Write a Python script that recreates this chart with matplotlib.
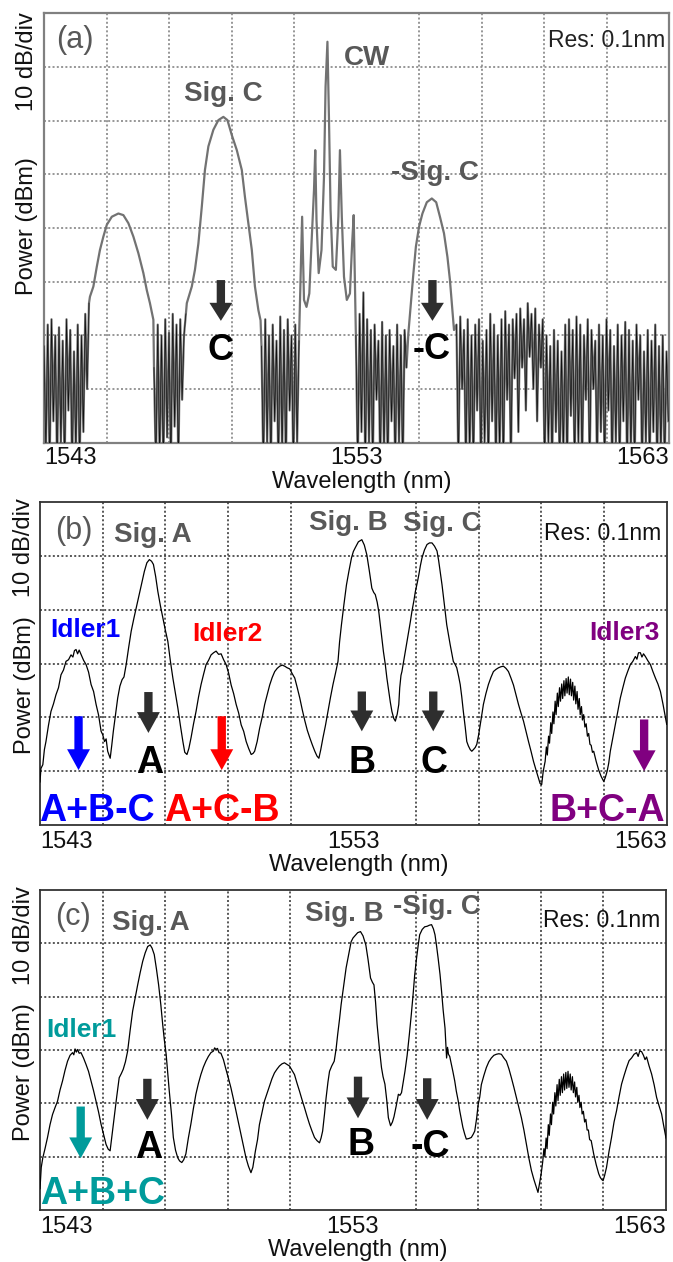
import numpy as np
import matplotlib
matplotlib.use('Agg')
import matplotlib.pyplot as plt
from matplotlib.patches import FancyArrowPatch, ArrowStyle

plt.rcParams['font.family'] = ['Liberation Sans', 'DejaVu Sans']

# ------------------------------------------------------------------ data
x_ticks = [1543, 1553, 1563]
x_tick_labels = ['1543', '1553', '1563']

# ---- panel (a): OSA trace, built from noise-floor stretches and smooth peaks
a_n1_range = (1543.00, 1544.44)
a_n1 = [-62, -82, -58, -85, -57, -76, -60, -85, -58.5, -80, -61, -85, -57, -74,
        -59, -85, -63, -82, -58, -85, -60, -78, -56, -70, -54]

a_idler_wl = [1544.47, 1544.58, 1544.69, 1544.79, 1544.90, 1545.01, 1545.17, 1545.38,
              1545.54, 1545.70, 1545.86, 1546.02, 1546.18, 1546.29, 1546.39, 1546.50]
a_idler_pw = [-52.8, -50.9, -47.2, -44.1, -41.6, -39.4, -37.9, -37.3,
              -37.6, -39.1, -41.6, -44.7, -48.4, -51.6, -54.0, -57.1]

a_n2_range = (1546.52, 1547.54)
a_n2 = [-66, -85, -58, -83, -60, -85, -57, -79, -59.5, -85, -56, -77, -58, -85,
        -57, -72, -60, -56]

a_sigc_wl = [1547.57, 1547.73, 1547.83, 1547.94, 1548.05, 1548.15, 1548.26, 1548.42,
             1548.58, 1548.74, 1548.87, 1549.01, 1549.17, 1549.33, 1549.43, 1549.54,
             1549.65, 1549.75, 1549.86, 1549.93]
a_sigc_pw = [-54.0, -50.9, -47.8, -42.9, -36.0, -29.2, -24.8, -21.7,
             -19.9, -19.3, -19.9, -22.7, -25.5, -29.2, -34.2, -39.1,
             -44.1, -50.9, -55.3, -57.2]

a_n3_range = (1549.96, 1551.16)
a_n3 = [-62, -85, -57, -80, -60, -85, -58, -76, -61, -85, -56.5, -82, -59, -85,
        -57, -74, -60, -85, -58, -80, -61]

a_cw_wl = [1551.21, 1551.26, 1551.32, 1551.40, 1551.49, 1551.56, 1551.64, 1551.68,
           1551.72, 1551.79, 1551.88, 1551.96, 1552.01, 1552.07, 1552.12, 1552.17,
           1552.24, 1552.34, 1552.42, 1552.47, 1552.53, 1552.60, 1552.69, 1552.79,
           1552.86, 1552.91]
a_cw_pw = [-49.1, -37.9, -53.4, -54.7, -52.2, -42.9, -32.9, -25.5,
           -38.5, -48.4, -44.1, -30.4, -13.7, -5.3, -19.9, -36.6,
           -47.2, -47.8, -37.9, -25.5, -37.9, -49.1, -53.4, -52.2,
           -42.9, -37.6]

a_n4_range = (1552.98, 1554.60)
a_n4 = [-60, -85, -56, -78, -52, -85, -57, -80, -59, -85, -58, -72, -61, -85,
        -57.5, -82, -60, -85, -59, -76, -62, -85, -58, -80, -60, -85, -59, -66]

a_msigc_wl = [1554.66, 1554.73, 1554.82, 1554.90, 1555.00, 1555.11, 1555.25, 1555.41,
              1555.55, 1555.67, 1555.80, 1555.91, 1555.99, 1556.06, 1556.12]
a_msigc_pw = [-59.6, -54.7, -48.5, -43.5, -39.8, -37.3, -35.2, -34.5,
              -35.2, -37.9, -41.0, -45.4, -49.7, -54.7, -59.0]

a_n5_range = (1556.20, 1562.98)
a_n5 = [-58, -85, -56.5, -70, -59, -85, -57, -82, -60, -85, -58, -74, -57, -85,
        -61, -80, -59, -85, -56, -76, -58, -85, -60, -82, -57, -85, -55.5, -72,
        -58, -85, -57, -68, -56, -78, -55, -66, -57, -74, -54, -64, -56, -70,
        -55, -76, -58, -66, -57, -85, -60, -80, -62, -85, -59, -78, -61, -85,
        -63, -82, -58, -85, -57, -75, -59, -85, -56.5, -80, -58, -85, -60, -72,
        -57, -85, -59, -70, -61, -85, -58, -78, -60, -85, -57, -74, -59, -85,
        -62, -80, -58, -85, -60, -76, -57.5, -85, -59, -82, -61, -85, -58, -72,
        -60, -85, -63, -80, -59, -85, -61, -78, -58, -85, -62, -82, -60, -85,
        -63, -76]

# ---- panel (b)
b_wl = [1543.00, 1543.03, 1543.09, 1543.14, 1543.19, 1543.27, 1543.35, 1543.43, 1543.51,
        1543.59, 1543.67, 1543.75, 1543.83, 1543.91, 1543.99, 1544.05, 1544.10, 1544.15,
        1544.20, 1544.25, 1544.31, 1544.39, 1544.47, 1544.55, 1544.63, 1544.71, 1544.79,
        1544.87, 1544.95, 1545.00, 1545.06, 1545.11, 1545.16, 1545.24, 1545.29, 1545.34,
        1545.41, 1545.48, 1545.55, 1545.62, 1545.68, 1545.75, 1545.83, 1545.91, 1546.00,
        1546.07, 1546.17, 1546.25, 1546.33, 1546.41, 1546.49, 1546.56, 1546.62, 1546.69,
        1546.76, 1546.84, 1546.92, 1547.00, 1547.08, 1547.16, 1547.24, 1547.32, 1547.40,
        1547.48, 1547.56, 1547.62, 1547.69, 1547.75, 1547.82, 1547.90, 1547.98, 1548.06,
        1548.14, 1548.22, 1548.30, 1548.38, 1548.46, 1548.54, 1548.62, 1548.70, 1548.78,
        1548.86, 1548.94, 1549.02, 1549.10, 1549.18, 1549.26, 1549.34, 1549.42, 1549.50,
        1549.58, 1549.66, 1549.74, 1549.80, 1549.85, 1549.93, 1550.01, 1550.09, 1550.17,
        1550.25, 1550.33, 1550.41, 1550.49, 1550.57, 1550.65, 1550.73, 1550.81, 1550.89,
        1550.97, 1551.05, 1551.13, 1551.21, 1551.29, 1551.37, 1551.45, 1551.53, 1551.61,
        1551.69, 1551.77, 1551.84, 1551.90, 1551.96, 1552.03, 1552.11, 1552.19, 1552.27,
        1552.35, 1552.43, 1552.51, 1552.56, 1552.62, 1552.70, 1552.78, 1552.86, 1552.94,
        1553.00, 1553.06, 1553.16, 1553.27, 1553.35, 1553.43, 1553.51, 1553.59, 1553.65,
        1553.70, 1553.76, 1553.81, 1553.86, 1553.91, 1553.96, 1554.02, 1554.07, 1554.13,
        1554.18, 1554.23, 1554.29, 1554.34, 1554.40, 1554.45, 1554.48, 1554.52, 1554.55,
        1554.60, 1554.66, 1554.72, 1554.77, 1554.82, 1554.87, 1554.93, 1554.98, 1555.04,
        1555.09, 1555.14, 1555.19, 1555.27, 1555.35, 1555.43, 1555.51, 1555.59, 1555.67,
        1555.72, 1555.77, 1555.83, 1555.88, 1555.93, 1555.98, 1556.04, 1556.09, 1556.14,
        1556.19, 1556.25, 1556.30, 1556.36, 1556.41, 1556.46, 1556.51, 1556.57, 1556.62,
        1556.67, 1556.73, 1556.78, 1556.83, 1556.89, 1556.94, 1557.00, 1557.05, 1557.10,
        1557.15, 1557.23, 1557.31, 1557.39, 1557.47, 1557.55, 1557.63, 1557.71, 1557.79,
        1557.87, 1557.95, 1558.03, 1558.11, 1558.19, 1558.27, 1558.35, 1558.43, 1558.51,
        1558.59, 1558.67, 1558.75, 1558.83, 1558.91, 1558.96, 1559.01, 1559.06, 1559.12,
        1559.16, 1559.19, 1559.23, 1559.26, 1559.30, 1559.33, 1559.37, 1559.40, 1559.44,
        1559.47, 1559.51, 1559.54, 1559.58, 1559.61, 1559.65, 1559.68, 1559.72, 1559.75,
        1559.79, 1559.82, 1559.86, 1559.89, 1559.93, 1559.96, 1560.00, 1560.03, 1560.07,
        1560.10, 1560.14, 1560.17, 1560.21, 1560.24, 1560.28, 1560.31, 1560.35, 1560.39,
        1560.43, 1560.47, 1560.51, 1560.55, 1560.59, 1560.63, 1560.67, 1560.75, 1560.83,
        1560.91, 1560.99, 1561.04, 1561.10, 1561.15, 1561.20, 1561.28, 1561.36, 1561.44,
        1561.52, 1561.60, 1561.68, 1561.76, 1561.84, 1561.92, 1562.00, 1562.05, 1562.10,
        1562.16, 1562.21, 1562.26, 1562.32, 1562.40, 1562.48, 1562.56, 1562.64, 1562.72,
        1562.80, 1562.88, 1562.96, 1563.00]
b_pw = [-52.0, -49.5, -48.8, -46.0, -44.5, -41.5, -38.9, -37.5, -35.8,
        -34.5, -32.1, -31.2, -29.6, -29.3, -28.4, -28.8, -27.6, -27.4,
        -28.2, -27.5, -28.3, -29.4, -30.2, -31.6, -33.9, -35.2, -37.6,
        -39.6, -42.6, -43.2, -44.5, -44.0, -46.3, -47.6, -45.2, -42.6,
        -39.5, -36.4, -34.2, -33.0, -32.5, -30.2, -27.0, -24.0, -21.5,
        -19.7, -17.2, -15.0, -12.9, -11.3, -10.7, -11.0, -11.6, -13.8,
        -16.6, -19.2, -21.5, -23.8, -25.9, -29.5, -32.7, -35.5, -38.3,
        -41.5, -44.5, -46.5, -46.9, -45.8, -43.8, -41.2, -38.9, -36.2,
        -33.9, -32.0, -30.2, -29.4, -28.4, -28.0, -27.7, -28.3, -28.2,
        -29.3, -30.2, -31.8, -34.0, -35.6, -37.6, -39.2, -41.4, -42.6,
        -44.5, -45.8, -46.9, -46.7, -46.3, -44.5, -42.0, -40.0, -37.6,
        -35.8, -34.0, -32.6, -31.5, -30.9, -30.5, -30.3, -30.5, -30.8,
        -31.0, -31.9, -32.7, -34.5, -36.4, -38.6, -40.6, -42.4, -43.8,
        -45.1, -46.3, -47.2, -47.6, -46.0, -43.8, -41.5, -38.9, -36.3,
        -33.9, -31.8, -29.6, -26.0, -22.8, -19.0, -15.4, -12.8, -10.4,
        -9.2, -8.5, -7.4, -7.0, -8.0, -9.8, -12.8, -16.0, -16.8,
        -17.2, -18.6, -20.3, -22.8, -25.3, -27.8, -30.2, -32.7, -35.2,
        -37.2, -38.9, -40.2, -40.7, -39.4, -37.6, -34.5, -32.2, -31.5,
        -29.8, -27.7, -25.8, -24.0, -22.2, -20.3, -18.4, -16.6, -15.0,
        -13.5, -11.8, -10.4, -8.9, -7.9, -7.6, -7.6, -8.2, -9.1,
        -10.8, -12.9, -15.4, -17.8, -20.3, -22.8, -24.8, -26.5, -28.0,
        -29.6, -30.2, -30.8, -32.4, -33.9, -36.2, -38.9, -41.8, -44.5,
        -45.3, -46.0, -46.3, -46.0, -45.6, -45.0, -43.2, -41.4, -39.5,
        -37.6, -35.6, -33.9, -32.6, -31.5, -31.1, -30.8, -30.6, -30.5,
        -30.9, -31.5, -32.7, -34.0, -35.8, -37.6, -39.2, -40.7, -42.6,
        -44.5, -46.3, -48.2, -49.8, -51.3, -52.3, -52.5, -50.0, -48.2,
        -45.5, -47.0, -43.5, -44.8, -41.0, -43.0, -39.0, -41.2, -37.0,
        -39.5, -35.5, -38.0, -34.5, -37.0, -33.8, -36.5, -33.2, -36.0,
        -32.8, -35.5, -32.5, -35.8, -32.9, -36.0, -33.5, -36.8, -34.2,
        -37.5, -35.2, -38.5, -36.5, -39.5, -38.0, -40.5, -39.5, -41.8,
        -41.2, -43.5, -43.0, -45.0, -45.2, -46.5, -46.3, -48.2, -49.8,
        -51.0, -51.9, -51.2, -50.0, -48.5, -46.3, -43.8, -41.4, -38.8,
        -36.4, -34.5, -32.7, -31.4, -30.2, -29.6, -28.7, -29.2, -28.0,
        -28.0, -28.8, -28.2, -28.7, -29.5, -30.2, -31.5, -32.7, -33.8,
        -35.2, -37.5, -40.1, -41.3]

# ---- panel (c)
c_wl = [1543.00, 1543.04, 1543.09, 1543.16, 1543.24, 1543.32, 1543.40, 1543.48, 1543.56,
        1543.64, 1543.72, 1543.80, 1543.88, 1543.96, 1544.04, 1544.08, 1544.12, 1544.16,
        1544.20, 1544.25, 1544.31, 1544.39, 1544.47, 1544.55, 1544.63, 1544.71, 1544.79,
        1544.87, 1544.95, 1545.03, 1545.11, 1545.18, 1545.24, 1545.30, 1545.37, 1545.45,
        1545.53, 1545.60, 1545.66, 1545.73, 1545.80, 1545.88, 1545.96, 1546.04, 1546.12,
        1546.20, 1546.28, 1546.36, 1546.44, 1546.52, 1546.58, 1546.65, 1546.72, 1546.79,
        1546.86, 1546.92, 1546.97, 1547.03, 1547.08, 1547.13, 1547.20, 1547.26, 1547.33,
        1547.40, 1547.46, 1547.53, 1547.59, 1547.66, 1547.74, 1547.82, 1547.90, 1547.98,
        1548.06, 1548.14, 1548.22, 1548.30, 1548.38, 1548.46, 1548.54, 1548.58, 1548.62,
        1548.67, 1548.72, 1548.78, 1548.86, 1548.94, 1549.02, 1549.10, 1549.18, 1549.26,
        1549.34, 1549.42, 1549.50, 1549.58, 1549.66, 1549.74, 1549.80, 1549.88, 1549.95,
        1550.01, 1550.09, 1550.17, 1550.25, 1550.33, 1550.41, 1550.49, 1550.57, 1550.65,
        1550.73, 1550.81, 1550.89, 1550.97, 1551.05, 1551.13, 1551.21, 1551.29, 1551.37,
        1551.45, 1551.53, 1551.61, 1551.69, 1551.77, 1551.85, 1551.93, 1551.98, 1552.03,
        1552.09, 1552.14, 1552.20, 1552.25, 1552.32, 1552.40, 1552.46, 1552.51, 1552.57,
        1552.62, 1552.70, 1552.78, 1552.86, 1552.94, 1553.00, 1553.06, 1553.15, 1553.24,
        1553.32, 1553.41, 1553.48, 1553.56, 1553.62, 1553.67, 1553.72, 1553.77, 1553.84,
        1553.91, 1553.96, 1554.02, 1554.08, 1554.13, 1554.20, 1554.26, 1554.31, 1554.38,
        1554.45, 1554.50, 1554.55, 1554.60, 1554.66, 1554.73, 1554.80, 1554.86, 1554.92,
        1554.97, 1555.03, 1555.08, 1555.13, 1555.21, 1555.29, 1555.37, 1555.44, 1555.51,
        1555.57, 1555.62, 1555.67, 1555.72, 1555.78, 1555.83, 1555.88, 1555.94, 1555.99,
        1556.02, 1556.05, 1556.09, 1556.14, 1556.19, 1556.25, 1556.30, 1556.36, 1556.41,
        1556.46, 1556.51, 1556.57, 1556.62, 1556.70, 1556.78, 1556.84, 1556.89, 1556.95,
        1557.00, 1557.05, 1557.10, 1557.18, 1557.26, 1557.34, 1557.42, 1557.50, 1557.58,
        1557.66, 1557.74, 1557.82, 1557.90, 1557.98, 1558.06, 1558.14, 1558.22, 1558.30,
        1558.38, 1558.46, 1558.54, 1558.62, 1558.70, 1558.78, 1558.86, 1558.91, 1558.96,
        1559.01, 1559.06, 1559.10, 1559.13, 1559.17, 1559.20, 1559.24, 1559.27, 1559.31,
        1559.34, 1559.38, 1559.41, 1559.45, 1559.48, 1559.52, 1559.55, 1559.59, 1559.62,
        1559.66, 1559.69, 1559.73, 1559.76, 1559.80, 1559.83, 1559.87, 1559.90, 1559.94,
        1559.97, 1560.01, 1560.04, 1560.08, 1560.11, 1560.15, 1560.18, 1560.22, 1560.25,
        1560.29, 1560.32, 1560.36, 1560.40, 1560.44, 1560.48, 1560.52, 1560.56, 1560.61,
        1560.69, 1560.77, 1560.85, 1560.90, 1560.95, 1560.99, 1561.04, 1561.10, 1561.18,
        1561.26, 1561.34, 1561.42, 1561.50, 1561.58, 1561.66, 1561.74, 1561.82, 1561.90,
        1561.98, 1562.06, 1562.11, 1562.16, 1562.22, 1562.28, 1562.33, 1562.38, 1562.46,
        1562.54, 1562.62, 1562.70, 1562.78, 1562.86, 1562.92, 1562.96, 1563.00]
c_pw = [-56.0, -52.0, -50.2, -48.5, -46.4, -44.0, -42.1, -40.8, -39.6,
        -37.5, -35.8, -33.8, -32.1, -31.0, -30.5, -30.9, -29.8, -30.4,
        -29.9, -30.6, -30.5, -31.5, -32.7, -34.0, -35.8, -37.6, -39.6,
        -41.6, -43.9, -45.8, -47.7, -48.6, -48.9, -46.0, -42.7, -38.8,
        -35.2, -34.4, -33.6, -32.2, -30.2, -26.3, -22.7, -20.2, -17.8,
        -15.5, -13.4, -11.8, -10.6, -10.3, -10.9, -12.1, -14.8, -17.8,
        -21.5, -25.2, -28.0, -30.8, -34.2, -37.7, -42.0, -46.4, -48.8,
        -50.2, -50.8, -51.1, -50.6, -49.5, -46.5, -43.9, -41.0, -38.3,
        -36.3, -34.6, -33.2, -32.1, -31.2, -30.5, -30.2, -29.6, -29.9,
        -29.7, -30.5, -30.6, -31.8, -33.6, -35.3, -37.1, -39.2, -41.4,
        -43.6, -45.8, -48.0, -50.2, -51.8, -53.0, -52.0, -49.0, -46.8,
        -44.0, -41.8, -39.6, -38.2, -36.8, -35.4, -34.3, -33.6, -33.0,
        -32.6, -32.4, -32.7, -33.0, -33.8, -34.6, -36.2, -37.7, -39.3,
        -40.8, -42.4, -43.9, -45.2, -46.4, -47.0, -47.4, -46.5, -45.2,
        -42.0, -39.0, -36.0, -34.0, -33.0, -32.1, -29.8, -27.1, -24.2,
        -21.5, -18.0, -14.6, -12.1, -9.7, -9.0, -8.6, -8.0, -7.8,
        -8.6, -10.3, -13.0, -16.5, -17.3, -17.8, -21.0, -25.2, -29.5,
        -33.3, -35.0, -36.4, -39.5, -42.7, -44.2, -43.5, -42.5, -40.5,
        -38.3, -38.5, -38.0, -36.2, -34.0, -31.0, -27.1, -23.5, -19.6,
        -16.0, -12.8, -10.5, -8.4, -7.4, -6.9, -6.8, -6.6, -6.5,
        -7.3, -8.4, -10.5, -12.8, -15.8, -19.0, -22.5, -25.9, -31.5,
        -29.5, -30.8, -31.2, -32.6, -34.0, -35.8, -37.7, -39.5, -41.4,
        -43.0, -44.5, -45.8, -46.7, -46.6, -46.4, -45.8, -45.2, -42.8,
        -40.2, -38.8, -36.5, -34.8, -33.3, -32.2, -31.5, -31.0, -30.8,
        -30.7, -30.8, -31.5, -32.1, -33.5, -35.2, -37.0, -38.9, -40.8,
        -42.7, -45.0, -47.7, -50.3, -52.6, -54.3, -55.8, -56.7, -55.0,
        -53.3, -51.0, -48.5, -50.0, -46.5, -48.5, -44.0, -46.0, -42.0,
        -44.0, -39.8, -42.0, -38.0, -40.5, -36.5, -39.5, -35.5, -38.5,
        -35.0, -38.0, -34.5, -37.5, -34.2, -37.2, -34.0, -37.0, -34.5,
        -37.5, -35.0, -38.0, -36.0, -38.8, -37.0, -39.8, -38.5, -40.8,
        -39.8, -42.0, -41.5, -43.5, -43.0, -45.0, -45.0, -46.8, -47.0,
        -49.5, -51.5, -53.2, -53.9, -54.3, -54.5, -53.5, -52.0, -49.0,
        -46.4, -43.5, -41.4, -38.8, -36.4, -34.8, -33.3, -32.0, -31.5,
        -30.8, -30.5, -31.2, -30.2, -30.3, -31.0, -31.8, -31.3, -33.0,
        -34.5, -36.5, -38.9, -40.5, -42.0, -44.0, -45.2, -46.5]

# ------------------------------------------------------------------ figure
W, H = 673, 1262
fig = plt.figure(figsize=(W / 100, H / 100), dpi=100)


def px_axes(left, top, right, bottom):
    return fig.add_axes([left / W, 1 - bottom / H, (right - left) / W, (bottom - top) / H])


def setup(ax, ymin, grid_color, frame_color, frame_lw, tick_pad):
    ax.set_xlim(1543, 1563)
    ax.set_ylim(ymin, 0)
    ax.set_xticks(x_ticks)
    ax.set_xticklabels(x_tick_labels, fontsize=17)
    ax.set_xticks(np.arange(1545, 1562, 2), minor=True)
    ax.set_yticks(np.arange(ymin + 10, 0, 10))
    ax.tick_params(axis='both', which='both', length=0, labelleft=False)
    ax.tick_params(axis='x', which='major', pad=tick_pad, colors='#111111')
    lbls = ax.get_xticklabels()
    lbls[0].set_ha('left')
    lbls[-1].set_ha('right')
    ax.grid(True, which='minor', axis='x', ls=(0, (1.3, 1.5)), color=grid_color, lw=1.1)
    ax.grid(True, which='major', axis='y', ls=(0, (1.3, 1.5)), color=grid_color, lw=1.1)
    ax.set_axisbelow(True)
    for s in ax.spines.values():
        s.set_color(frame_color)
        s.set_linewidth(frame_lw)


def arrow(ax, x, y0, y1, color, hl, hw=16.5, tw=6.0):
    st = ArrowStyle.Simple(head_length=hl, head_width=hw, tail_width=tw)
    ax.add_patch(FancyArrowPatch((x, y0), (x, y1), arrowstyle=st, mutation_scale=1,
                                 color=color, lw=0, shrinkA=0, shrinkB=0, zorder=5))


def ylabels(xc, y1, y2):
    fig.text(xc / W, 1 - y1 / H, '10 dB/div', rotation=90, ha='center', va='center',
             fontsize=17, color='#111111')
    fig.text(xc / W, 1 - y2 / H, 'Power (dBm)', rotation=90, ha='center', va='center',
             fontsize=17, color='#111111')


def xlabel(xc, yb):
    fig.text(xc / W, 1 - yb / H, 'Wavelength (nm)', ha='center', va='baseline',
             fontsize=17, color='#111111')


GRAY_TXT = '#585858'
DARK = '#2e2e2e'
SIG_FS = 20
IDL_FS = 19

# ---------------- panel (a)
axa = px_axes(44, 13.3, 669, 442.7)
setup(axa, -80, '#7a7a7a', '#808080', 1.6, 3.0)

noise_parts = [(a_n1_range, a_n1), (a_n2_range, a_n2), (a_n3_range, a_n3),
               (a_n4_range, a_n4), (a_n5_range, a_n5)]
smooth_parts = [(a_idler_wl, a_idler_pw), (a_sigc_wl, a_sigc_pw),
                (a_cw_wl, a_cw_pw), (a_msigc_wl, a_msigc_pw)]
pieces = []
for i, (rng, vals) in enumerate(noise_parts):
    pieces.append((np.linspace(rng[0], rng[1], len(vals)), np.array(vals, float)))
    if i < len(smooth_parts):
        pieces.append((np.array(smooth_parts[i][0]), np.array(smooth_parts[i][1], float)))
wl_a = np.concatenate([p[0] for p in pieces])
pw_a = np.concatenate([p[1] for p in pieces])
axa.plot(wl_a, pw_a, color='#727272', lw=1.6, zorder=3)
for rng, vals in noise_parts:
    axa.plot(np.linspace(rng[0], rng[1], len(vals)), vals, color='#101010', lw=0.5, zorder=4)

axa.text(1543.99, -5.0, '(a)', fontsize=22, color=GRAY_TXT, ha='center', va='center')
axa.text(1548.73, -16.3, 'Sig. C', fontsize=SIG_FS, fontweight='bold', color=GRAY_TXT,
         ha='center', va='baseline')
axa.text(1553.33, -9.6, 'CW', fontsize=SIG_FS, fontweight='bold', color=GRAY_TXT,
         ha='center', va='baseline')
axa.text(1555.51, -31.1, '-Sig. C', fontsize=SIG_FS, fontweight='bold', color=GRAY_TXT,
         ha='center', va='baseline')
axa.text(1562.87, -6.2, 'Res: 0.1nm', fontsize=16.5, color='#222222', ha='right', va='baseline')
arrow(axa, 1548.66, -49.7, -57.3, DARK, 13)
arrow(axa, 1555.43, -49.7, -57.3, DARK, 13)
axa.text(1548.66, -64.5, 'C', fontsize=26, fontweight='bold', color='black',
         ha='center', va='baseline')
axa.text(1555.42, -64.4, '-C', fontsize=26, fontweight='bold', color='black',
         ha='center', va='baseline')
ylabels(27, 61.5, 226.5)
xlabel(362, 488)

# ---------------- panel (b)
axb = px_axes(40, 502, 666.7, 825)
setup(axb, -60, '#2a2a2a', '#333333', 1.3, 4.5)
axb.plot(b_wl, b_pw, color='black', lw=0.9, zorder=3)
axb.text(1544.09, -5.3, '(b)', fontsize=22, color=GRAY_TXT, ha='center', va='center')
axb.text(1546.61, -7.5, 'Sig. A', fontsize=SIG_FS, fontweight='bold', color=GRAY_TXT,
         ha='center', va='baseline')
axb.text(1552.85, -5.2, 'Sig. B', fontsize=SIG_FS, fontweight='bold', color=GRAY_TXT,
         ha='center', va='baseline')
axb.text(1555.85, -5.4, 'Sig. C', fontsize=SIG_FS, fontweight='bold', color=GRAY_TXT,
         ha='center', va='baseline')
axb.text(1562.84, -7.0, 'Res: 0.1nm', fontsize=16.5, color='#111111', ha='right', va='baseline')
axb.text(1544.46, -25.1, 'Idler1', fontsize=IDL_FS, fontweight='bold', color='#0000ff',
         ha='center', va='baseline')
axb.text(1548.97, -25.9, 'Idler2', fontsize=IDL_FS, fontweight='bold', color='#ff0000',
         ha='center', va='baseline')
axb.text(1561.65, -25.6, 'Idler3', fontsize=IDL_FS, fontweight='bold', color='#800080',
         ha='center', va='baseline')
arrow(axb, 1544.23, -39.8, -49.8, '#0000ff', 15)
arrow(axb, 1548.80, -39.8, -49.8, '#ff0000', 15)
arrow(axb, 1562.28, -40.4, -50.0, '#800080', 15)
arrow(axb, 1546.46, -35.3, -42.9, DARK, 15)
arrow(axb, 1553.27, -35.2, -42.6, DARK, 15)
arrow(axb, 1555.55, -35.2, -42.6, DARK, 15)
axb.text(1546.49, -50.3, 'A', fontsize=27, fontweight='bold', color='black', ha='center', va='baseline')
axb.text(1553.29, -50.3, 'B', fontsize=27, fontweight='bold', color='black', ha='center', va='baseline')
axb.text(1555.58, -50.3, 'C', fontsize=27, fontweight='bold', color='black', ha='center', va='baseline')
axb.text(1544.82, -59.3, 'A+B-C', fontsize=27, fontweight='bold', color='#0000ff',
         ha='center', va='baseline')
axb.text(1548.80, -59.3, 'A+C-B', fontsize=27, fontweight='bold', color='#ff0000',
         ha='center', va='baseline')
axb.text(1561.11, -59.3, 'B+C-A', fontsize=27, fontweight='bold', color='#800080',
         ha='center', va='baseline')
ylabels(24.5, 547.5, 685)
xlabel(359, 871)

# ---------------- panel (c)
axc = px_axes(40, 890, 666, 1210)
setup(axc, -60, '#2a2a2a', '#333333', 1.3, 4.5)
axc.plot(c_wl, c_pw, color='black', lw=0.9, zorder=3)
TEAL = '#009b9b'
axc.text(1544.04, -5.0, '(c)', fontsize=22, color=GRAY_TXT, ha='center', va='center')
axc.text(1546.55, -7.5, 'Sig. A', fontsize=SIG_FS, fontweight='bold', color=GRAY_TXT,
         ha='center', va='baseline')
axc.text(1552.72, -5.9, 'Sig. B', fontsize=SIG_FS, fontweight='bold', color=GRAY_TXT,
         ha='center', va='baseline')
axc.text(1555.67, -4.5, '-Sig. C', fontsize=SIG_FS, fontweight='bold', color=GRAY_TXT,
         ha='center', va='baseline')
axc.text(1562.81, -6.9, 'Res: 0.1nm', fontsize=16.5, color='#111111', ha='right', va='baseline')
axc.text(1544.31, -27.5, 'Idler1', fontsize=IDL_FS, fontweight='bold', color=TEAL,
         ha='center', va='baseline')
arrow(axc, 1544.30, -40.6, -50.3, TEAL, 15)
arrow(axc, 1546.43, -35.4, -43.1, DARK, 15)
arrow(axc, 1553.16, -35.0, -42.8, DARK, 15)
arrow(axc, 1555.37, -35.3, -43.1, DARK, 15)
axc.text(1546.47, -50.3, 'A', fontsize=27, fontweight='bold', color='black', ha='center', va='baseline')
axc.text(1553.26, -49.7, 'B', fontsize=27, fontweight='bold', color='black', ha='center', va='baseline')
axc.text(1555.48, -50.0, '-C', fontsize=27, fontweight='bold', color='black', ha='center', va='baseline')
axc.text(1544.99, -58.8, 'A+B+C', fontsize=27, fontweight='bold', color=TEAL,
         ha='center', va='baseline')
ylabels(24, 936, 1072.5)
xlabel(358, 1256)

fig.savefig('out.png', dpi=100)
